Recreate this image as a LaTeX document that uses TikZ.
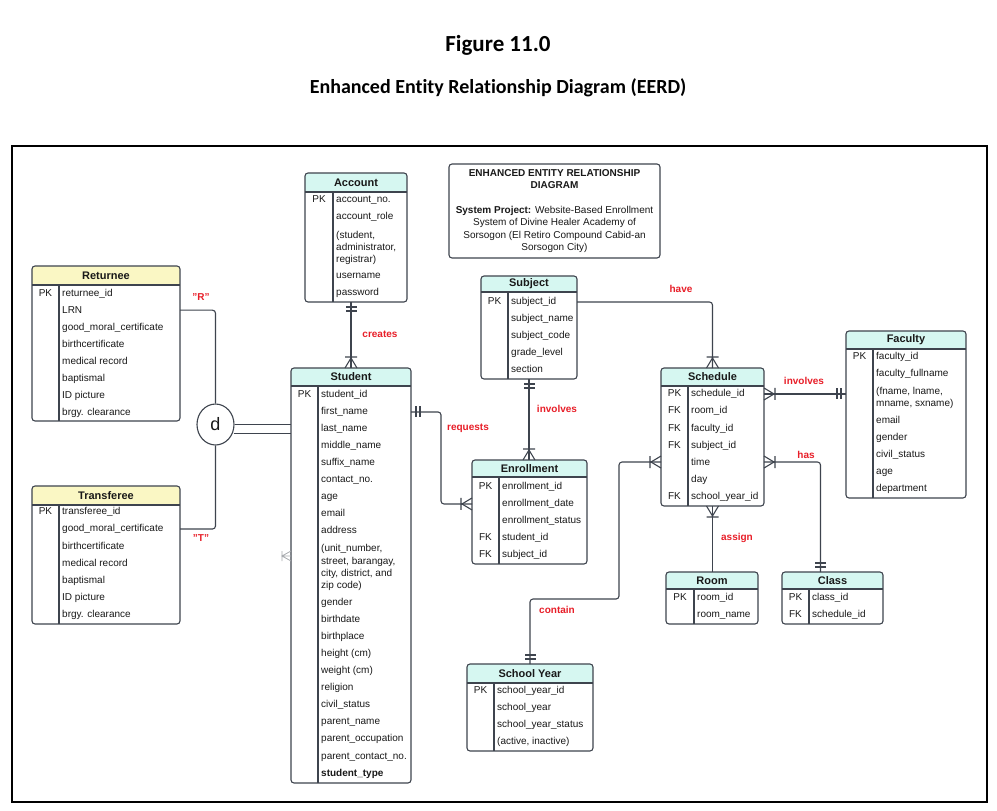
\documentclass[tikz,border=0pt]{standalone}
\usepackage{fontspec}
\setmainfont{Liberation Sans}
\newfontfamily\titlefont[Ligatures=CommonOff]{Carlito}
\usetikzlibrary{calc,shapes.geometric,decorations.markings}

\definecolor{linecol}{RGB}{62,68,78}
\definecolor{textcol}{RGB}{25,25,25}
\definecolor{headcyan}{RGB}{214,247,241}
\definecolor{headyellow}{RGB}{250,247,196}
\definecolor{relred}{RGB}{232,30,40}

\tikzset{
  boxline/.style={draw=linecol, line width=1.1pt},
  relline/.style={draw=linecol, line width=1.1pt, rounded corners=3pt},
  headtext/.style={font=\fontsize{11}{13}\selectfont\bfseries, text=textcol, inner sep=0pt},
  rowtext/.style={font=\fontsize{10}{12.3}\selectfont, text=textcol, anchor=base west, align=left, inner sep=0pt},
  keytext/.style={font=\fontsize{10}{12.3}\selectfont, text=textcol, anchor=base, inner sep=0pt},
  reltext/.style={font=\fontsize{10}{12}\selectfont\bfseries, text=relred, inner sep=0pt},
  one end/.style={postaction={decorate, decoration={markings, mark=at position 1 with
    {\draw[linecol, line width=1.1pt, sharp corners] (-5,-5.5) -- (-5,5.5) (-9,-5.5) -- (-9,5.5);}}}},
  one start/.style={postaction={decorate, decoration={markings, mark=at position 0 with
    {\draw[linecol, line width=1.1pt, sharp corners] (5,-5.5) -- (5,5.5) (9,-5.5) -- (9,5.5);}}}},
  many end/.style={postaction={decorate, decoration={markings, mark=at position 1 with
    {\draw[linecol, line width=1.1pt, sharp corners] (0,-6) -- (-10,0) -- (0,6) (-11,-6) -- (-11,6);}}}},
  many start/.style={postaction={decorate, decoration={markings, mark=at position 0 with
    {\draw[linecol, line width=1.1pt, sharp corners] (0,-6) -- (10,0) -- (0,6) (11,-6) -- (11,6);}}}}
}

% name, title, left, top, right, bottom, header bottom, key divider, header fill
\newcommand{\entity}[9]{%
  \node[inner sep=0pt, outer sep=0pt, minimum width={(#5-#3)*1pt}, minimum height={(#6-#4)*1pt}] (#1) at ({(#3+#5)/2},{(#4+#6)/2}) {};
  \begin{scope}
    \clip[rounded corners=3pt] (#3,#4) rectangle (#5,#6);
    \fill[#9] (#3,#4) rectangle (#5,#7);
  \end{scope}
  \draw[boxline] (#3,#7) -- (#5,#7) (#8,#7) -- (#8,#6);
  \draw[boxline, rounded corners=3pt] (#3,#4) rectangle (#5,#6);
  \node[headtext] (#1-title) at ({(#3+#5)/2},{(#4+#7)/2}) {#2};
}
% rows: key/text/y of the (last) text line
\newcommand{\entityrows}[4]{%
  \foreach \kk/\txt/\yy [count=\i] in {#4} {
    \node[keytext] (#1-k\i) at ({(#2+#3)/2},{\yy+3.6}) {\kk};
    \node[rowtext] (#1-r\i) at ({#3+3},{\yy+3.6}) {\txt};
  }
}

\begin{document}
\begin{tikzpicture}[x=1pt, y=-1pt]
  \useasboundingbox (0,0) rectangle (997,811);
  \fill[white] (0,0) rectangle (997,811);

  \node[font=\titlefont\bfseries\fontsize{23}{27}\selectfont] (figtitle) at (498,45) {Figure 11.0};
  \node[font=\titlefont\bfseries\fontsize{20}{24}\selectfont] (figsub) at (498,88) {Enhanced Entity Relationship Diagram (EERD)};
  \draw[black, line width=1.2pt] (12,146) rectangle (987,802);

  \node[draw=linecol, line width=1.1pt, rounded corners=3pt, minimum width=211pt, minimum height=94pt,
        align=center, inner sep=0pt, text=textcol, font=\fontsize{10}{12.3}\selectfont] (info) at (554.5,211)
    {\textbf{ENHANCED ENTITY RELATIONSHIP}\\\textbf{DIAGRAM}\\[12.7pt]%
     \textbf{System Project:} Website-Based Enrollment\\System of Divine Healer Academy of\\%
     Sorsogon (El Retiro Compound Cabid-an\\Sorsogon City)};

  \entity{returnee}{Returnee}{32}{266}{180}{421}{285}{59}{headyellow}
  \entityrows{returnee}{32}{59}{PK/returnee\_id/293, /LRN/310, /good\_moral\_certificate/327, /birthcertificate/344,
    /medical record/361, /baptismal/378, /ID picture/395, /brgy. clearance/412}

  \entity{transferee}{Transferee}{32}{486}{180}{624}{505}{59}{headyellow}
  \entityrows{transferee}{32}{59}{PK/transferee\_id/511, /good\_moral\_certificate/528, /birthcertificate/546,
    /medical record/563, /baptismal/580, /ID picture/597, /brgy. clearance/614}

  \entity{account}{Account}{305}{173}{407}{302}{192}{333}{headcyan}
  \entityrows{account}{305}{333}{PK/account\_no./199, /account\_role/216,
    /{(student,\\administrator,\\registrar)}/259, /username/275, /password/292}

  \entity{student}{Student}{291}{368}{411}{783}{386}{318}{headcyan}
  \entityrows{student}{291}{318}{PK/student\_id/394, /first\_name/411, /last\_name/428, /middle\_name/445,
    /suffix\_name/462, /contact\_no./479, /age/496, /email/513, /address/530,
    /{(unit\_number,\\street, barangay,\\city, district, and\\zip code)}/585,
    /gender/602, /birthdate/619, /birthplace/636, /height (cm)/653, /weight (cm)/670, /religion/687,
    /civil\_status/704, /parent\_name/721, /parent\_occupation/738, /parent\_contact\_no./756,
    /\textbf{student\_type}/773}

  \entity{subject}{Subject}{481}{276}{577}{379}{292}{508}{headcyan}
  \entityrows{subject}{481}{508}{PK/subject\_id/301, /subject\_name/318, /subject\_code/335,
    /grade\_level/352, /section/369}

  \entity{enrollment}{Enrollment}{472}{460}{587}{564}{477}{499}{headcyan}
  \entityrows{enrollment}{472}{499}{PK/enrollment\_id/486, /enrollment\_date/503, /enrollment\_status/520,
    FK/student\_id/537, FK/subject\_id/554}

  \entity{schedule}{Schedule}{661}{368}{764}{506}{386}{688}{headcyan}
  \entityrows{schedule}{661}{688}{PK/schedule\_id/393, FK/room\_id/410, FK/faculty\_id/428, FK/subject\_id/445,
    /time/462, /day/479, FK/school\_year\_id/496}

  \entity{faculty}{Faculty}{846}{331}{966}{498}{349}{873}{headcyan}
  \entityrows{faculty}{846}{873}{PK/faculty\_id/356, /faculty\_fullname/373,
    /{(fname, lname,\\mname, sxname)}/403, /email/420, /gender/437, /civil\_status/454, /age/471,
    /department/488}

  \entity{room}{Room}{666}{572}{758}{624}{589}{694}{headcyan}
  \entityrows{room}{666}{694}{PK/room\_id/597, /room\_name/614}

  \entity{class}{Class}{782}{572}{883}{624}{589}{809}{headcyan}
  \entityrows{class}{782}{809}{PK/class\_id/597, FK/schedule\_id/614}

  \entity{schoolyear}{School Year}{467}{664}{593}{751}{683}{494}{headcyan}
  \entityrows{schoolyear}{467}{494}{PK/school\_year\_id/690, /school\_year/707, /school\_year\_status/724,
    /{(active, inactive)}/741}

  % disjoint specialization
  \node[ellipse, draw=linecol, line width=1.1pt, minimum width=37pt, minimum height=41pt, inner sep=0pt,
        text=textcol, font=\fontsize{18}{18}\selectfont] (d) at (215.5,424.5) {d};
  \draw[relline] (returnee-r2 -| returnee.east) -| (d.north);
  \draw[relline] (d.south) |- (transferee-r2 -| transferee.east);
  \draw[relline] (d.east) -- (d.east -| student.west);
  \coordinate (dlow) at ($(d.east)+(-1,9)$);
  \draw[relline] (dlow) -- (dlow -| student.west);
  \node[reltext] (lbl-r) at (201,297) {"R"};
  \node[reltext] (lbl-t) at (201,538) {"T"};
  \draw[linecol!45, line width=0.8pt] (291,551) -- (282,556) -- (291,561) (291,556) -- (282,556) (282,551) -- (282,561);

  % relationships
  \draw[relline, one start, many end] (student.north |- account.south) -- (student.north);
  \draw[relline, one start, many end] (student-r2 -| student.east) -- ++(30,0) |- (enrollment-r2 -| enrollment.west);
  \draw[relline, one start, many end] (subject.south) -- (subject.south |- enrollment.north);
  \draw[relline, many end] (subject-r1 -| subject.east) -| (schedule.north);
  \draw[relline, many start, one end] (schedule-r1 -| schedule.east) -- (schedule-r1 -| faculty.west);
  \draw[relline, many start, one end] (schedule-r5 -| schedule.east) -| ($(class.north)+(-12,0)$);
  \draw[relline, many start] (schedule.south) -- (schedule.south |- room.north);
  \draw[relline, many start, one end] (schedule-r5 -| schedule.west) -- ++(-42,0) -- ++(0,137) -| (schoolyear.north);

  \node[reltext] (lbl-creates) at (380,334) {creates};
  \node[reltext] (lbl-requests) at (468,428) {requests};
  \node[reltext] (lbl-involves) at (557,409) {involves};
  \node[reltext] (lbl-have) at (681,289) {have};
  \node[reltext] (lbl-involves2) at (804,381) {involves};
  \node[reltext] (lbl-has) at (806,455) {has};
  \node[reltext] (lbl-assign) at (737,538) {assign};
  \node[reltext] (lbl-contain) at (557,610) {contain};
\end{tikzpicture}
\end{document}
